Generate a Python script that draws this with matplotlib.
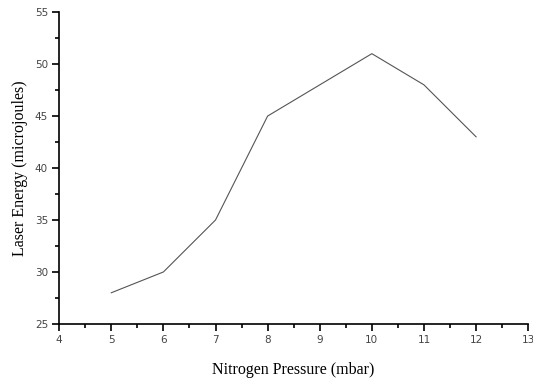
import matplotlib
matplotlib.use("Agg")
import matplotlib.pyplot as plt
from matplotlib.ticker import MultipleLocator

# nitrogen pressure vs laser energy
pressure = [5, 6, 7, 8, 9, 10, 11, 12]
energy = [28, 30, 35, 45, 48, 51, 48, 43]

fig = plt.figure(figsize=(5.33, 3.78), dpi=100)
ax = fig.add_axes([0.111, 0.143, 0.880, 0.825])

ax.plot(pressure, energy, color='#555555', lw=0.8)

ax.set_xlim(4, 13)
ax.set_ylim(25, 55)
ax.xaxis.set_major_locator(MultipleLocator(1))
ax.xaxis.set_minor_locator(MultipleLocator(0.5))
ax.yaxis.set_major_locator(MultipleLocator(5))
ax.yaxis.set_minor_locator(MultipleLocator(2.5))

for s in ['top', 'right']:
    ax.spines[s].set_visible(False)
for s in ['left', 'bottom']:
    ax.spines[s].set_linewidth(1.2)

ax.tick_params(which='major', direction='out', length=5, width=1.2,
               labelsize=7.5, labelcolor='#444444', pad=3)
ax.tick_params(which='minor', direction='out', length=3, width=1.2)
for lbl in ax.get_xticklabels() + ax.get_yticklabels():
    lbl.set_family('DejaVu Sans')

ax.set_xlabel('Nitrogen Pressure (mbar)', family='Liberation Serif',
              fontsize=11.5, labelpad=12)
ax.set_ylabel('Laser Energy (microjoules)', family='Liberation Serif',
              fontsize=11.5, labelpad=5)

fig.savefig('out.png', dpi=100)
